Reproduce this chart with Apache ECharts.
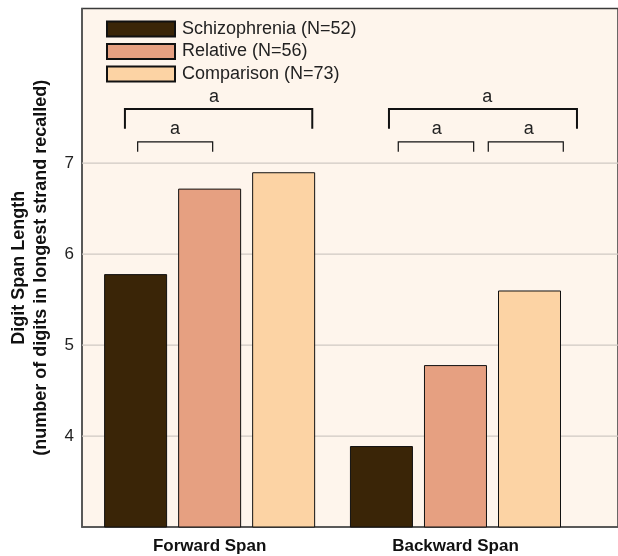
<!DOCTYPE html>
<html>
<head>
<meta charset="utf-8">
<script src="https://cdn.jsdelivr.net/npm/echarts@6/dist/echarts.min.js"></script>
<style>
html,body{margin:0;padding:0;background:#fff;}
#c{width:618px;height:556px;}
</style>
</head>
<body>
<div id="c"></div>
<script>
// ---- data ----
const categories = ['Forward Span', 'Backward Span'];
const seriesNames = ['Schizophrenia (N=52)', 'Relative (N=56)', 'Comparison (N=73)'];
const schizophrenia = [5.78, 3.89];
const relative = [6.72, 4.78];
const comparison = [6.90, 5.60];
const yTicks = [4, 5, 6, 7];
// significance brackets: [xStart, xEnd, yTop, yLeg, labelX, labelY, label, heavy]
// x in group units (0 = Forward Span centre, 1 = Backward Span centre), y in data units
const bracketXStart = [-0.3445, -0.2927, 0.7295, 0.7673, 1.1334];
const bracketXEnd   = [0.4175, 0.0124, 1.4942, 1.0740, 1.4385];
const bracketTop    = [7.596, 7.234, 7.596, 7.234, 7.234];
const bracketLeg    = [7.377, 7.124, 7.377, 7.124, 7.124];
const bracketLabelX = [0.0177, -0.141, 1.129, 0.9235, 1.2977];
const bracketLabelY = [7.726, 7.379, 7.726, 7.379, 7.379];
const bracketLabels = ['a', 'a', 'a', 'a', 'a'];
const bracketHeavy  = [1, 0, 1, 0, 0];

const colors = ['#3a2507', '#e6a081', '#fcd3a4'];
const FONT = "'Liberation Sans', Arial, sans-serif";

const bracketData = bracketXStart.map((x, i) => [x, bracketXEnd[i], bracketTop[i], bracketLeg[i], bracketLabelX[i], bracketLabelY[i], i]);

const chart = echarts.init(document.getElementById('c'), null, {renderer: 'canvas'});

const barCommon = {
  type: 'bar', xAxisIndex: 1, yAxisIndex: 1,
  barWidth: 63, barGap: '17.5%', z: 2,
  itemStyle: {borderColor: '#111', borderWidth: 1}
};

chart.setOption({
  animation: false,
  textStyle: {fontFamily: FONT},
  grid: [
    {left: 79, right: -3, top: 8.5, bottom: 29, show: true, backgroundColor: '#fef5ec', borderColor: '#3a3a3a', borderWidth: 1.5},
    {left: 86.7, right: 39.6, top: 8.5, bottom: 29, show: false}
  ],
  legend: {
    orient: 'vertical', left: 106, top: 20, itemWidth: 68, itemHeight: 15, itemGap: 4.5,
    icon: 'rect', padding: 0,
    textStyle: {fontSize: 18, color: '#222', fontFamily: FONT, padding: [0, 0, 0, 2]},
    data: seriesNames
  },
  xAxis: [
    {gridIndex: 0, type: 'value', min: 0, max: 1, axisLabel: {show: false}, axisTick: {show: false}, splitLine: {show: false},
     axisLine: {show: true, lineStyle: {color: '#555', width: 1.5}}},
    {gridIndex: 1, type: 'category', data: categories, axisLine: {show: false}, axisTick: {show: false},
     axisLabel: {fontSize: 17, fontWeight: 'bold', color: '#111', margin: 11, fontFamily: FONT}},
    {gridIndex: 1, type: 'value', min: -0.5, max: 1.5, show: false}
  ],
  yAxis: [
    {gridIndex: 0, type: 'value', min: 3, max: 8.7, interval: 1,
     axisLine: {show: true, lineStyle: {color: '#555', width: 1.5}}, axisTick: {show: false}, splitLine: {show: false},
     axisLabel: {fontSize: 17, color: '#222', margin: 8, fontFamily: FONT, formatter: v => yTicks.includes(v) ? String(v) : ''},
     name: 'Digit Span Length\n(number of digits in longest strand recalled)',
     nameLocation: 'middle', nameRotate: 90, nameGap: 30,
     nameTextStyle: {fontSize: 18, fontWeight: 'bold', color: '#111', lineHeight: 22, fontFamily: FONT}},
    {gridIndex: 1, type: 'value', min: 3, max: 8.7, show: false}
  ],
  series: [
    {
      type: 'custom', xAxisIndex: 0, yAxisIndex: 0, z: 1, silent: true,
      data: yTicks.map(v => [0, v]),
      encode: {x: 0, y: 1},
      renderItem: function (params, api) {
        const cs = params.coordSys;
        const y = api.coord([0, api.value(1)])[1];
        return {type: 'line', shape: {x1: cs.x, y1: y, x2: cs.x + cs.width, y2: y},
                style: {stroke: '#cfc9c3', lineWidth: 1.2}};
      }
    },
    Object.assign({name: seriesNames[0], data: schizophrenia, itemStyle: {color: colors[0], borderColor: '#111', borderWidth: 1}}, {type: 'bar', xAxisIndex: 1, yAxisIndex: 1, barWidth: 63, barGap: '17.5%', z: 2}),
    Object.assign({name: seriesNames[1], data: relative, itemStyle: {color: colors[1], borderColor: '#111', borderWidth: 1}}, {type: 'bar', xAxisIndex: 1, yAxisIndex: 1, barWidth: 63, barGap: '17.5%', z: 2}),
    Object.assign({name: seriesNames[2], data: comparison, itemStyle: {color: colors[2], borderColor: '#111', borderWidth: 1}}, {type: 'bar', xAxisIndex: 1, yAxisIndex: 1, barWidth: 63, barGap: '17.5%', z: 2}),
    {
      type: 'custom', xAxisIndex: 2, yAxisIndex: 1, z: 3, silent: true,
      data: bracketData,
      encode: {x: [0, 1], y: [2, 3]},
      renderItem: function (params, api) {
        const i = api.value(6);
        const heavy = bracketHeavy[i];
        const a = api.coord([api.value(0), api.value(3)]);
        const b = api.coord([api.value(0), api.value(2)]);
        const c = api.coord([api.value(1), api.value(2)]);
        const d = api.coord([api.value(1), api.value(3)]);
        const t = api.coord([api.value(4), api.value(5)]);
        return {
          type: 'group',
          children: [
            {type: 'polyline', shape: {points: [a, b, c, d]},
             style: {stroke: '#111', lineWidth: heavy ? 2 : 1.2, fill: null}},
            {type: 'text', x: t[0], y: t[1],
             style: {text: bracketLabels[i], fontSize: 18, fontFamily: FONT, fill: '#222', align: 'center', verticalAlign: 'middle'}}
          ]
        };
      }
    }
  ]
});
</script>
</body>
</html>
